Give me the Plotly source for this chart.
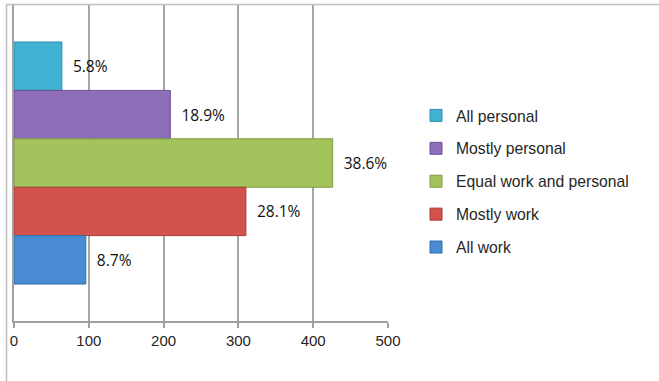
import plotly.graph_objects as go

# Survey answers: how the device is used (response counts)
categories = ["All personal", "Mostly personal", "Equal work and personal",
              "Mostly work", "All work"]
counts = [64, 209, 426, 310, 96]
fill_colors = ["#42B2D2", "#8E6DB9", "#A3C45C", "#D4524E", "#4A8CD3"]
edge_colors = ["#2C8FAB", "#6E5196", "#7E9B3E", "#A83A37", "#2F6DAF"]
x_ticks = [0, 100, 200, 300, 400, 500]

total = sum(counts)
pct_labels = [f"{c / total * 100:.1f}%" for c in counts]

W, H = 659, 381
ML, MR, MT, MB = 14, 271, 5, 60
PW, PH = W - ML - MR, H - MT - MB

fig = go.Figure()
for i in range(len(categories)):
    fig.add_trace(go.Bar(
        y=["responses"],
        x=[counts[i]],
        orientation="h",
        name=categories[i],
        legendgroup=categories[i],
        marker=dict(color=fill_colors[i],
                    line=dict(color=edge_colors[i], width=1)),
        text=["\u00a0\u00a0" + pct_labels[i]],
        textposition="outside",
        textfont=dict(family="Open Sans", size=15.5, color="#111111"),
        cliponaxis=False,
        hoverinfo="skip",
    ))

# chart frame (top and left edges)
fx = (6.5 - ML) / PW
fig.add_shape(type="line", xref="paper", yref="paper",
              x0=fx, x1=(W - ML) / PW, y0=1 + 0.5 / PH, y1=1 + 0.5 / PH,
              line=dict(color="#BDBDBD", width=1.5))
fig.add_shape(type="line", xref="paper", yref="paper",
              x0=fx, x1=fx, y0=1 + 0.5 / PH, y1=-MB / PH,
              line=dict(color="#BDBDBD", width=1.5))

fig.update_layout(
    width=W, height=H,
    margin=dict(l=ML, r=MR, t=MT, b=MB),
    paper_bgcolor="white", plot_bgcolor="white",
    barmode="group", bargap=0.234, bargroupgap=0,
    showlegend=True,
    legend=dict(
        x=(416 - ML) / PW, xanchor="left",
        y=(H - MB - 181.7) / PH, yanchor="middle",
        traceorder="grouped", tracegroupgap=9.5,
        font=dict(family="Liberation Sans", size=15.7, color="#262626"),
        bgcolor="rgba(0,0,0,0)",
    ),
    xaxis=dict(
        range=[0, 500], tickvals=x_ticks, ticktext=[str(v) for v in x_ticks],
        showgrid=True, gridcolor="#A6A6A6", gridwidth=1.5,
        showline=True, linecolor="#A0A0A0", linewidth=1.5,
        ticks="outside", ticklen=5, tickcolor="#A0A0A0", tickwidth=1.5,
        tickfont=dict(family="Liberation Sans", size=15, color="#262626"),
        zeroline=False, fixedrange=True,
    ),
    yaxis=dict(
        autorange="reversed",
        showticklabels=False, showgrid=False, zeroline=False,
        showline=True, linecolor="#A0A0A0", linewidth=1.5,
        fixedrange=True,
    ),
)

fig.write_html("out.html")
